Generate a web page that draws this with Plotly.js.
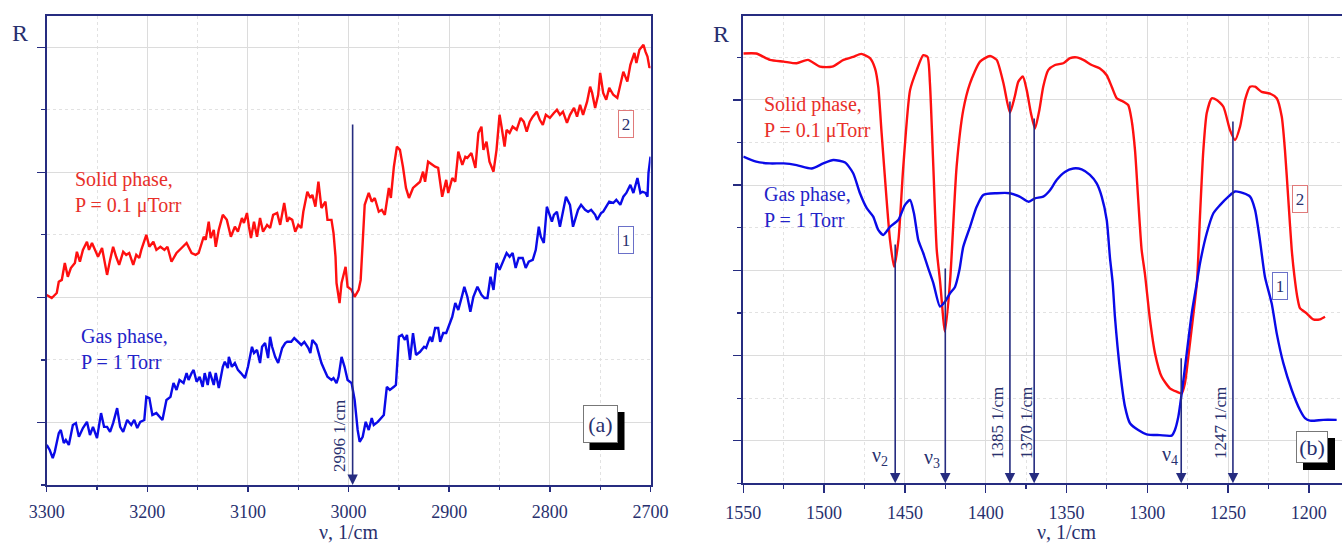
<!DOCTYPE html>
<html><head><meta charset="utf-8">
<script src="https://cdn.plot.ly/plotly-3.0.1.min.js"></script>
<style>html,body{margin:0;padding:0;background:#fff}#plot{width:1342px;height:544px}</style>
</head><body><div id="plot"></div>
<script>
// ---------- DATA (panel a: 3300-2700 1/cm) ----------
const solidA_nu = [3300,3295,3290,3288,3285,3282,3279,3276,3272,3270,3267,3264,3260,3258,3255,3252,3249,3245,3242,3240,3237,3234,3231,3228,3224,3221,3218,3214,3211,3208,3206,3201,3198,3194,3191,3187,3183,3180,3176,3171,3166,3161,3156,3152,3149,3144,3142,3139,3137,3134,3132,3129,3125,3121,3117,3113,3110,3106,3104,3101,3099,3097,3094,3091,3088,3085,3081,3078,3075,3071,3068,3066,3064,3061,3059,3056,3053,3050,3047,3045,3041,3038,3036,3033,3030,3027,3023,3021,3017,3015,3013,3012,3009,3007,3003,3001,2997,2994,2990,2988,2986,2984,2980,2977,2974,2970,2967,2964,2960,2958,2955,2952,2949,2946,2943,2940,2936,2932,2929,2926,2924,2921,2917,2914,2911,2907,2903,2901,2897,2894,2891,2887,2884,2882,2878,2874,2871,2868,2866,2863,2860,2856,2853,2850,2848,2845,2843,2840,2837,2833,2829,2826,2823,2820,2817,2813,2810,2807,2804,2800,2796,2793,2790,2787,2783,2780,2776,2773,2770,2767,2763,2760,2758,2755,2752,2750,2747,2744,2741,2737,2733,2730,2727,2723,2720,2716,2714,2711,2707,2705,2703,2701,2700];
const solidA_R = [3.04,2.99,3.07,3.25,3.28,3.55,3.33,3.47,3.55,3.73,3.57,3.76,3.89,3.76,3.87,3.76,3.65,3.79,3.55,3.36,3.60,3.81,3.65,3.52,3.73,3.68,3.71,3.52,3.68,3.63,3.76,4.00,3.81,3.89,3.76,3.81,3.76,3.81,3.57,3.71,3.79,3.87,3.71,3.68,3.71,3.97,3.92,4.21,3.95,4.08,3.81,4.08,4.32,4.24,3.97,4.13,4.05,4.27,4.19,4.35,4.13,3.95,4.21,3.97,4.27,4.05,4.16,4.11,4.32,4.35,4.16,4.35,4.51,4.21,4.27,4.24,4.05,4.16,4.11,4.37,4.69,4.59,4.64,4.45,4.85,4.43,4.53,4.24,4.24,4.03,3.65,3.23,2.91,3.23,3.49,3.17,3.12,3.01,3.12,3.28,3.87,4.48,4.67,4.53,4.59,4.37,4.40,4.32,4.75,4.59,5.09,5.41,5.36,5.09,4.75,4.59,4.75,4.80,4.85,5.01,4.85,5.17,5.12,5.09,5.07,4.61,4.88,4.67,4.91,4.85,5.33,5.12,5.25,5.23,5.31,5.07,5.63,5.73,5.36,5.49,5.17,5.01,5.36,5.92,5.73,5.41,5.68,5.63,5.73,5.68,5.87,5.81,5.65,5.81,5.89,5.97,5.84,5.76,5.92,5.87,5.95,6.00,5.92,5.97,5.79,5.92,6.03,5.89,6.08,5.92,6.13,6.37,6.27,6.03,6.24,6.59,6.27,6.16,6.35,6.24,6.19,6.43,6.61,6.45,6.72,6.91,6.75,6.96,7.04,6.93,6.85,6.67,6.70];

const gasA_nu = [3300,3297,3294,3292,3288,3286,3283,3281,3278,3274,3271,3268,3264,3260,3257,3254,3250,3246,3243,3240,3237,3234,3230,3227,3224,3220,3216,3213,3210,3207,3203,3201,3198,3195,3191,3188,3185,3181,3177,3174,3171,3168,3164,3161,3159,3156,3154,3151,3148,3145,3143,3140,3138,3134,3132,3129,3125,3123,3120,3119,3116,3113,3110,3107,3103,3100,3096,3094,3091,3088,3086,3083,3080,3078,3076,3073,3070,3066,3063,3061,3057,3054,3050,3047,3044,3040,3038,3036,3032,3030,3027,3024,3021,3017,3015,3012,3010,3007,3004,3001,2997,2994,2991,2989,2986,2983,2980,2977,2975,2971,2968,2965,2962,2959,2955,2953,2950,2947,2944,2942,2939,2936,2933,2929,2925,2923,2919,2917,2914,2911,2909,2906,2903,2901,2897,2894,2891,2887,2885,2882,2879,2876,2872,2868,2865,2862,2859,2856,2853,2850,2847,2843,2840,2837,2834,2831,2827,2824,2821,2817,2814,2811,2809,2806,2803,2800,2798,2796,2793,2790,2787,2784,2780,2777,2775,2772,2769,2765,2762,2759,2755,2753,2749,2747,2744,2741,2737,2734,2730,2727,2724,2720,2717,2715,2713,2710,2708,2705,2703,2702,2700];
const gasA_R = [0.64,0.56,0.43,0.53,0.83,0.88,0.67,0.72,0.64,0.96,0.99,0.77,0.91,1.01,0.80,0.93,0.75,1.15,0.93,0.93,0.85,0.99,1.23,0.93,0.85,1.04,0.96,1.04,0.91,1.01,1.04,1.41,1.39,1.12,1.15,1.09,1.04,1.36,1.41,1.63,1.52,1.68,1.63,1.79,1.68,1.79,1.84,1.65,1.73,1.57,1.79,1.60,1.81,1.60,1.79,1.55,1.89,1.97,1.87,2.05,1.89,1.95,1.84,1.79,1.71,1.89,2.21,2.11,2.16,1.95,2.21,2.27,2.03,2.37,2.21,2.05,1.95,2.19,2.27,2.29,2.29,2.35,2.29,2.24,2.29,2.19,2.11,2.32,2.24,2.13,1.95,1.84,1.73,1.68,1.71,1.63,1.73,2.05,1.89,1.68,1.63,1.36,0.88,0.69,0.77,1.01,0.88,1.07,0.96,1.01,1.07,1.12,1.57,1.52,1.57,1.60,2.37,2.40,2.32,2.40,2.00,2.43,2.08,2.13,2.21,2.19,2.37,2.29,2.51,2.51,2.29,2.43,2.43,2.53,2.69,2.91,2.80,3.04,3.17,3.01,2.77,3.01,3.17,3.04,2.99,2.99,3.33,3.12,3.55,3.44,3.57,3.71,3.65,3.71,3.47,3.63,3.63,3.47,3.57,3.60,3.76,4.13,3.97,3.87,4.45,4.32,4.21,4.32,4.37,4.13,4.40,4.61,4.48,4.13,4.24,4.40,4.48,4.40,4.37,4.40,4.32,4.24,4.35,4.37,4.45,4.53,4.51,4.56,4.48,4.61,4.67,4.80,4.67,4.80,4.91,4.67,4.69,4.67,4.61,4.99,5.25];

// ---------- DATA (panel b: 1550-1180 1/cm) ----------
const solidB_nu = [1550,1542,1533.5,1525,1517,1510,1502.5,1495,1488,1482,1477,1471.6,1468.5,1466.5,1464.4,1461.3,1459.2,1456.7,1454,1451,1446.8,1442.7,1438.6,1436,1434.5,1432.4,1430.3,1428.3,1425.2,1422,1418,1413.9,1409.7,1403.5,1397.3,1393.2,1389,1385,1382,1379.8,1377,1374.6,1372,1369.5,1366.8,1364.4,1361.3,1357.1,1352,1347.8,1343.7,1339.6,1334.4,1329.3,1325.1,1322,1318.9,1314.8,1311.8,1309.7,1307.6,1305.6,1303.5,1301.4,1298.3,1295.2,1291.1,1286,1281.8,1278.7,1276.7,1274.6,1271.9,1269.2,1267.4,1265.3,1263.2,1260.1,1257,1252.9,1248.8,1245.7,1242.6,1239.5,1236.4,1233.3,1229.2,1224.1,1219.9,1216.8,1214.8,1212.7,1210.6,1208.9,1207.2,1205.5,1201.4,1197.3,1193.1,1190];
const solidB_R = [10.09,10.09,9.94,9.90,9.86,9.94,9.78,9.78,9.94,10.01,10.08,9.98,9.74,9.31,8.22,6.65,5.71,5.08,5.71,7.43,9.23,9.70,10.05,10.01,9.39,7.43,5.48,4.77,3.56,4.77,7.43,8.76,9.39,9.90,10.03,9.94,9.39,8.70,9.08,9.43,9.55,9.23,8.69,8.33,8.76,9.31,9.70,9.82,9.86,9.98,10.00,9.94,9.82,9.74,9.58,9.31,9.04,8.96,8.88,8.53,7.82,6.65,5.48,4.90,3.83,3.05,2.50,2.23,2.15,2.11,2.35,2.97,3.83,4.75,6.26,7.82,8.69,9.04,9.00,8.84,8.29,8.06,8.37,9.00,9.31,9.31,9.19,9.15,9.04,8.61,7.82,6.65,5.48,4.85,4.38,4.11,3.99,3.85,3.85,3.91];

const gasB_nu = [1550,1542,1533.5,1525,1517,1507.7,1500.5,1494.3,1487,1482,1477.8,1473.6,1469.6,1466.5,1463.4,1459.2,1454.1,1450,1446.8,1444.4,1441.7,1438.6,1435.5,1432.4,1428.3,1425.2,1422.1,1419,1416.3,1413.9,1409.7,1405.6,1401.5,1393.2,1385,1379,1373.6,1369.5,1364.4,1360.2,1356.1,1351,1345.8,1340.6,1335.5,1331.3,1328.2,1325.1,1323.1,1321.4,1320,1316.9,1313.8,1310.7,1305.6,1300.4,1292.2,1284.9,1282.9,1280.8,1278.7,1275.6,1272.5,1269.4,1267.4,1263.2,1259.1,1255,1249.8,1245.7,1240.6,1236.4,1233.3,1230.3,1227.2,1223,1219.9,1215.8,1210.6,1205.5,1202.4,1199.3,1191.1,1182.8];
const gasB_R = [7.67,7.55,7.51,7.51,7.47,7.39,7.51,7.59,7.53,7.28,6.81,6.46,6.26,5.95,5.83,6.02,6.18,6.53,6.65,6.34,5.71,5.40,5.04,4.70,4.15,4.26,4.46,4.61,5.00,5.55,6.02,6.49,6.77,6.81,6.81,6.73,6.61,6.69,6.73,6.88,7.12,7.31,7.39,7.37,7.24,7.04,6.73,6.18,5.30,4.70,3.90,2.66,1.80,1.41,1.25,1.15,1.13,1.12,1.25,1.56,2.11,3.05,3.99,4.69,5.16,5.87,6.34,6.53,6.73,6.85,6.81,6.73,6.42,5.71,4.85,4.22,3.52,2.82,2.19,1.72,1.53,1.47,1.49,1.49];

// marked bands
const bandA = [2996];
const bandA_label = ["2996 1/cm"];
const bandB = [1456, 1425, 1385, 1370, 1279, 1247];
const bandB_label = ["ν<sub>2</sub>", "ν<sub>3</sub>", "1385 1/cm", "1370 1/cm", "ν<sub>4</sub>", "1247 1/cm"];

// ---------- STYLE ----------
const W = 1342, H = 544;
const FONT = "Liberation Serif, Times New Roman, serif";
const AX = "#262c80";
const TXT = "#28306e";
const RED = "#ff1010";
const BLUE = "#0a0ae8";
const px = x => x / W;
const py = y => 1 - y / H;

const traces = [
  {x: solidA_nu, y: solidA_R, xaxis: "x", yaxis: "y", mode: "lines", line: {color: RED, width: 2.4}, hoverinfo: "skip"},
  {x: gasA_nu, y: gasA_R, xaxis: "x", yaxis: "y", mode: "lines", line: {color: BLUE, width: 2.4}, hoverinfo: "skip"},
  {x: solidB_nu, y: solidB_R, xaxis: "x2", yaxis: "y2", mode: "lines", line: {color: RED, width: 2.4, shape: "spline", smoothing: 0.6}, hoverinfo: "skip"},
  {x: gasB_nu, y: gasB_R, xaxis: "x2", yaxis: "y2", mode: "lines", line: {color: BLUE, width: 2.4, shape: "spline", smoothing: 0.6}, hoverinfo: "skip"}
];

function xax(domain, range, dtick, mdtick, ticklen, anchor) {
  return {
    domain, range, anchor, automargin: false,
    showline: true, linecolor: AX, linewidth: 2, mirror: true,
    ticks: "outside", ticklen, tickwidth: 1.5, tickcolor: AX,
    tickmode: "linear", tick0: 0, dtick,
    ticklabelstandoff: 4,
    tickfont: {family: FONT, size: 18, color: TXT},
    showgrid: true, gridcolor: "#dcdcdc", gridwidth: 1, zeroline: false,
    minor: {tickmode: "linear", tick0: 0, dtick: mdtick, ticks: "outside", ticklen: Math.round(ticklen / 2), tickwidth: 1.2, tickcolor: AX,
            showgrid: true, gridcolor: "#e2e2e2", gridwidth: 1, griddash: "dot"}
  };
}
function yax(domain, range, anchor, mirror) {
  return {
    domain, range, anchor, automargin: false,
    showline: true, linecolor: AX, linewidth: 2, mirror,
    ticks: "outside", ticklen: 8, tickwidth: 1.5, tickcolor: AX,
    tickmode: "linear", tick0: 1, dtick: 2, showticklabels: false,
    showgrid: true, gridcolor: "#dcdcdc", gridwidth: 1, zeroline: false,
    minor: {tickmode: "linear", tick0: 0, dtick: 1, ticks: "outside", ticklen: 4, tickwidth: 1.2, tickcolor: AX,
            showgrid: true, gridcolor: "#e2e2e2", gridwidth: 1, griddash: "dot"}
  };
}

const ann = [];
const shapes = [];
function txt(text, x, y, opts) {
  ann.push(Object.assign({text, x: px(x), y: py(y), xref: "paper", yref: "paper", showarrow: false,
    xanchor: "center", yanchor: "middle", font: {family: FONT, size: 18, color: TXT}}, opts || {}));
}
function box(text, x, y, border, w, h, size) {
  txt(text, x, y, {bordercolor: border, borderwidth: 1, borderpad: 1, bgcolor: "rgba(255,255,255,0.9)", width: w, height: h, font: {family: FONT, size: size, color: TXT}});
}
function panelLabel(text, x, y, w, h) {
  // black drop shadow (offset down-right) under a white framed box
  shapes.push({type: "rect", xref: "paper", yref: "paper", layer: "above",
    x0: px(x - w / 2 + 7), x1: px(x + w / 2 + 7), y0: py(y + h / 2 + 7), y1: py(y - h / 2 + 7),
    fillcolor: "#000", line: {width: 0}});
  txt(text, x, y, {bgcolor: "#fff", bordercolor: "#777", borderwidth: 1, borderpad: 1, width: w - 4, height: h - 4, font: {family: FONT, size: 22, color: TXT}});
}
function arrow(xr, yr, nu, top) {
  ann.push({text: "", x: nu, y: 0, xref: xr, yref: yr, ax: nu, ay: top, axref: xr, ayref: yr,
    showarrow: true, arrowhead: 2, arrowsize: 1.3, arrowwidth: 1.6, arrowcolor: AX, standoff: 0, startstandoff: 0});
}

// panel a
txt("R", 20, 33, {font: {family: FONT, size: 24, color: TXT}});
txt("Solid phase,<br>P = 0.1 μTorr", 73, 192, {xanchor: "left", align: "left", font: {family: FONT, size: 20, color: "#e8302a"}});
txt("Gas phase,<br>P = 1 Torr", 79, 349, {xanchor: "left", align: "left", font: {family: FONT, size: 20, color: "#2323c8"}});
box("2", 626, 124, "#e07a7a", 12, 24, 17);
box("1", 625.5, 240, "#6a70c8", 12, 24, 17);
panelLabel("(a)", 600, 424, 35, 38);
arrow("x", "y", bandA[0], 5.79);
txt(bandA_label[0], 339, 436, {textangle: -90, font: {family: FONT, size: 17, color: TXT}});
txt("ν, 1/cm", 348, 532, {font: {family: FONT, size: 20, color: TXT}});

// panel b
txt("R", 721, 34, {font: {family: FONT, size: 24, color: TXT}});
txt("Solid phase,<br>P = 0.1 μTorr", 762, 117, {xanchor: "left", align: "left", font: {family: FONT, size: 20, color: "#e8302a"}});
txt("Gas phase,<br>P = 1 Torr", 762, 207, {xanchor: "left", align: "left", font: {family: FONT, size: 20, color: "#2323c8"}});
const tops = [5.64, 5.08, 9.0, 8.6, 2.97, 8.53];
const labPos = [[880, 456, 0], [932, 458, 0], [997, 423, -90], [1026, 423, -90], [1170, 455, 0], [1220, 423, -90]];
bandB.forEach((nu, i) => {
  arrow("x2", "y2", nu, tops[i]);
  const p = labPos[i];
  txt(bandB_label[i], p[0], p[1], {textangle: p[2], font: {family: FONT, size: p[2] ? 17 : 20, color: TXT}});
});
box("2", 1300, 199, "#e07a7a", 12, 24, 17);
box("1", 1280, 286, "#6a70c8", 12, 24, 17);
panelLabel("(b)", 1312, 447, 32, 32);
txt("ν, 1/cm", 1066, 532, {font: {family: FONT, size: 20, color: TXT}});

const layout = {
  width: W, height: H, margin: {l: 0, r: 0, t: 0, b: 0},
  paper_bgcolor: "#fff", plot_bgcolor: "#fff", showlegend: false,
  xaxis: xax([px(46.7), px(650.5)], [3300, 2700], 100, 50, 5, "y"),
  yaxis: yax([1 - 485 / H, 1 - 16 / H], [0, 7.5], "x", true),
  xaxis2: xax([px(743.3), 1], [1550, 1179.5], 50, 25, 8, "y2"),
  yaxis2: yax([1 - 483.3 / H, 1 - 16 / H], [0, 10.97], "x2", false),
  annotations: ann,
  shapes: shapes
};

Plotly.newPlot("plot", traces, layout, {staticPlot: true, displayModeBar: false});
</script>
</body></html>
